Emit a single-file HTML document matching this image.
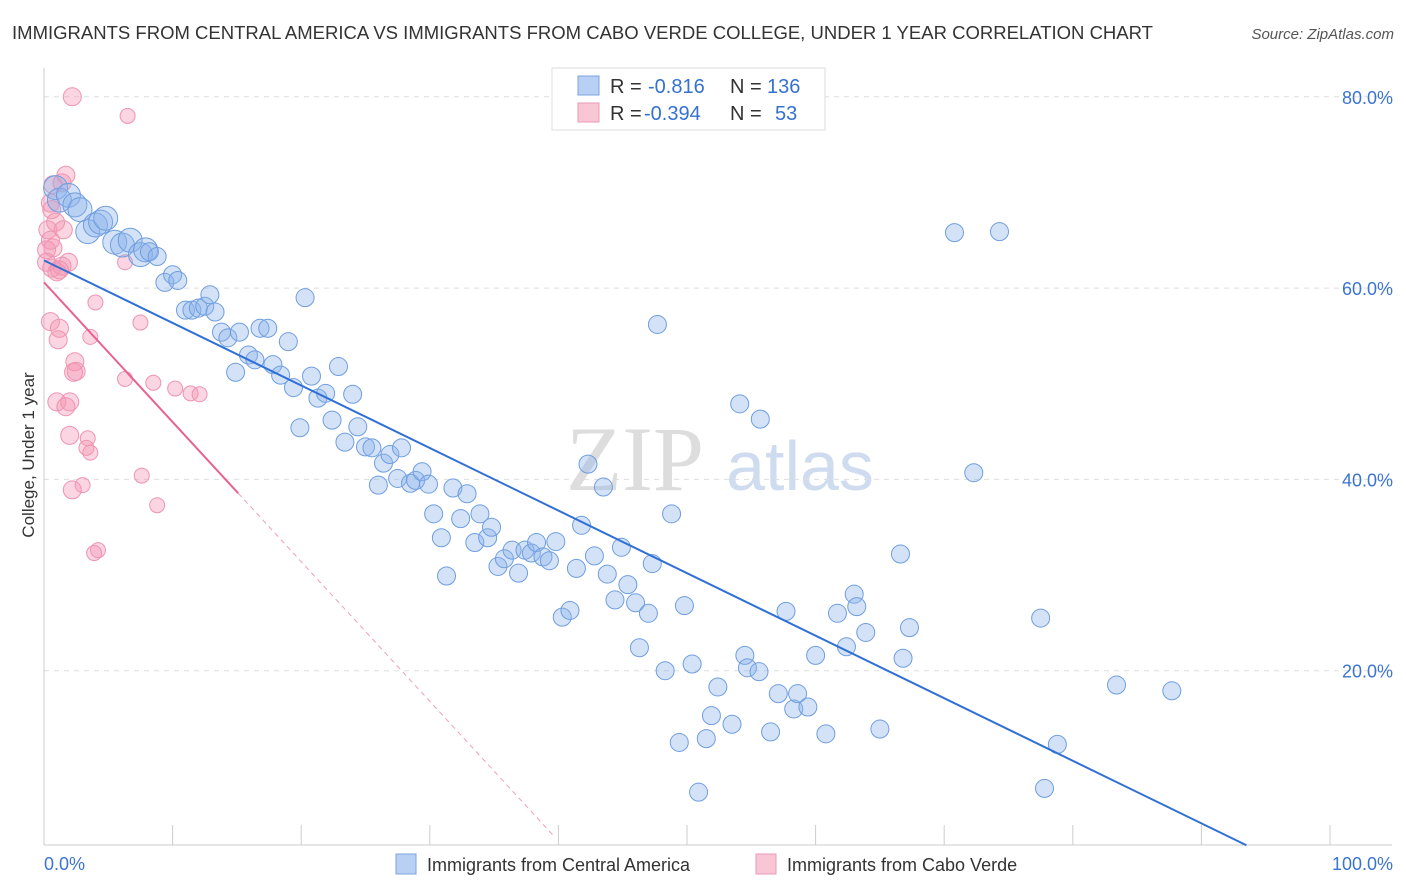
<!DOCTYPE html>
<html><head><meta charset="utf-8">
<style>
body{margin:0;background:#fff;font-family:"Liberation Sans",sans-serif;}
#wrap{position:relative;width:1406px;height:892px;overflow:hidden;}
</style></head>
<body>
<div id="wrap">
<svg id="svg" width="1406" height="892" xmlns="http://www.w3.org/2000/svg">
<text x="12" y="39" font-size="18" fill="#333" textLength="1141" lengthAdjust="spacingAndGlyphs">IMMIGRANTS FROM CENTRAL AMERICA VS IMMIGRANTS FROM CABO VERDE COLLEGE, UNDER 1 YEAR CORRELATION CHART</text>
<text x="1394" y="39" font-size="15" fill="#555" font-style="italic" text-anchor="end">Source: ZipAtlas.com</text>
<text x="635" y="490" font-size="92" fill="#ddd" text-anchor="middle" font-family="Liberation Serif,serif">ZIP</text>
<text x="800" y="490" font-size="70" fill="#cfdcf0" text-anchor="middle">atlas</text>
<text transform="translate(34,455) rotate(-90)" font-size="17" fill="#333" text-anchor="middle">College, Under 1 year</text>
<g id="grid"></g><g id="pts"></g><g id="lines"></g>
<g>
<rect x="552" y="68" width="273" height="62" fill="#fff" stroke="#ddd"/>
<rect x="578" y="76" width="21" height="19" fill="#b7d0f3" stroke="#7ea6e0"/>
<rect x="578" y="103" width="21" height="19" fill="#f8c6d4" stroke="#eb9ab4"/>
<g font-size="20">
<text x="610" y="93" fill="#333">R =</text><text x="648" y="93" fill="#3571d0">-0.816</text>
<text x="730" y="93" fill="#333">N =</text><text x="767" y="93" fill="#3571d0">136</text>
</g>
<g font-size="20">
<text x="610" y="120" fill="#333">R =</text><text x="644" y="120" fill="#3571d0">-0.394</text>
<text x="730" y="120" fill="#333">N =</text><text x="775" y="120" fill="#3571d0">53</text>
</g>
</g>
<g>
<rect x="396" y="854" width="20" height="20" fill="#b7d0f3" stroke="#7ea6e0"/>
<text x="427" y="871" font-size="18" fill="#333">Immigrants from Central America</text>
<rect x="756" y="854" width="20" height="20" fill="#f8c6d4" stroke="#eb9ab4"/>
<text x="787" y="871" font-size="18" fill="#333">Immigrants from Cabo Verde</text>
</g>
</svg>
</div>
<script>
const yTicks=[20,40,60,80];
const xTickLabels=["0.0%","100.0%"];
const blueX=[0.9,1.2,1.9,2.4,2.8,3.4,4.0,4.4,4.8,5.5,6.1,6.7,7.5,7.9,8.2,8.8,9.4,10.0,10.4,11.0,11.5,12.0,12.5,12.9,13.3,13.8,14.3,15.2,15.9,14.9,16.4,16.8,17.4,17.8,18.4,19.0,19.4,19.9,20.3,20.8,21.3,21.9,22.4,22.9,23.4,24.0,24.4,25.0,25.5,26.0,26.4,26.9,27.5,27.8,28.5,28.9,29.4,29.9,30.3,30.9,31.3,31.8,32.4,32.9,33.5,33.9,34.5,34.8,35.3,35.8,36.4,36.9,37.4,37.9,38.3,38.8,39.3,39.8,40.3,40.9,41.4,41.8,42.3,42.8,43.5,43.8,44.4,44.9,45.4,46.0,46.3,47.0,47.3,47.7,48.3,48.8,49.4,49.8,50.4,50.9,51.5,51.9,52.4,53.5,54.1,54.5,54.7,55.6,55.7,56.5,57.1,57.7,58.3,58.6,59.4,60.0,60.8,61.7,62.4,63.0,63.2,63.9,65.0,66.6,66.8,67.3,70.8,72.3,74.3,77.5,77.8,78.8,83.4,87.7];
const blueY=[70.5,69.2,69.7,68.7,68.2,65.9,66.6,66.9,67.3,64.8,64.5,65.0,63.5,64.0,63.8,63.3,60.6,61.4,60.8,57.7,57.7,57.9,58.1,59.3,57.5,55.4,54.8,55.4,53.0,51.2,52.5,55.8,55.8,52.0,50.9,54.4,49.6,45.4,59.0,50.8,48.5,49.0,46.2,51.8,43.9,48.9,45.5,43.4,43.3,39.4,41.7,42.6,40.1,43.3,39.6,39.9,40.8,39.5,36.4,33.9,29.9,39.1,35.9,38.5,33.4,36.4,33.9,35.0,30.9,31.7,32.6,30.2,32.6,32.3,33.4,31.9,31.5,33.5,25.6,26.3,30.7,35.2,41.6,32.0,39.2,30.1,27.4,32.9,29.0,27.1,22.4,26.0,31.2,56.2,20.0,36.4,12.5,26.8,20.7,7.3,12.9,15.3,18.3,14.4,47.9,21.6,20.3,19.9,46.3,13.6,17.6,26.2,16.0,17.6,16.2,21.6,13.4,26.0,22.5,28.0,26.7,24.0,13.9,32.2,21.3,24.5,65.8,40.7,65.9,25.5,7.7,12.3,18.5,17.9];
const pinkX=[2.2,6.5,0.7,1.4,1.7,0.5,0.6,0.9,0.3,0.5,0.7,1.5,0.2,0.6,1.0,1.4,1.9,0.2,4.0,0.5,1.2,1.1,3.6,7.5,2.4,2.5,2.3,6.3,8.5,10.2,11.4,12.1,1.0,2.0,1.7,2.0,3.4,3.3,3.6,7.6,3.0,2.2,8.8,4.2,3.9,6.3,1.2];
const pinkY=[80.0,78.0,70.8,71.0,71.8,68.9,68.2,66.9,66.1,65.0,64.2,66.1,62.7,62.1,61.7,62.3,62.7,64.0,58.5,56.5,55.8,54.6,54.9,56.4,52.3,51.3,51.2,50.5,50.1,49.5,49.0,48.9,48.1,48.1,47.6,44.6,44.3,43.3,42.8,40.4,39.4,38.9,37.3,32.6,32.3,62.7,61.9];
const blueFit=[62.9,-0.654];
const pinkFit=[60.6,-1.46];
const NS="http://www.w3.org/2000/svg";
const X0=44,X1=1330,Y0=862,PPY=9.565;
const sx=v=>X0+v*(X1-X0)/100, sy=v=>Y0-v*PPY;
function mk(tag,attrs,parent){const e=document.createElementNS(NS,tag);for(const k in attrs)e.setAttribute(k,attrs[k]);parent.appendChild(e);return e;}
const grid=document.getElementById('grid'),pts=document.getElementById('pts'),lines=document.getElementById('lines');
yTicks.forEach(t=>{
 const l=mk('line',{x1:44,x2:1392,y1:sy(t),y2:sy(t),stroke:'#ddd','stroke-dasharray':'5,5'},grid);
 
 
 const tx=mk('text',{x:1393,y:sy(t)+7,'font-size':18,fill:'#3c74d1','text-anchor':'end'},grid);
 tx.textContent=t.toFixed(1)+'%';
 
 
});
const ax=mk('line',{x1:44,x2:1392,y1:845,y2:845,stroke:'#ccc'},grid);


const ay=mk('line',{x1:44,x2:44,y1:68,y2:845,stroke:'#ccc'},grid);


for(let i=0;i<=10;i++){
 const t=mk('line',{x1:sx(i*10),x2:sx(i*10),y1:825,y2:845,stroke:'#ccc'},grid);
 
 
}
xTickLabels.forEach((s,i)=>{
 const t=mk('text',{x:i?1393:44,y:870,'font-size':18,fill:'#3c74d1','text-anchor':i?'end':'start'},grid);
 t.textContent=s;
 
 
});
pinkX.forEach((x,i)=>{
 const r=x<3?9:7.5;
 const c=mk('circle',{cx:sx(x),cy:sy(pinkY[i]),r:r,fill:'rgba(244,150,180,0.4)',stroke:'#ee94b2','stroke-width':1},pts);
 
 
});
blueX.forEach((x,i)=>{
 const r=x<8?12:9;
 const c=mk('circle',{cx:sx(x),cy:sy(blueY[i]),r:r,fill:'rgba(140,180,235,0.38)',stroke:'#6f9ee0','stroke-width':1},pts);
 
 
});
const bl=mk('line',{x1:sx(0),y1:sy(blueFit[0]),x2:sx(93.5),y2:sy(blueFit[0]+blueFit[1]*93.5),stroke:'#2f6fd6','stroke-width':2},lines);


const pl=mk('line',{x1:sx(0),y1:sy(pinkFit[0]),x2:sx(15.1),y2:sy(pinkFit[0]+pinkFit[1]*15.1),stroke:'#e8628e','stroke-width':2},lines);


const pd=mk('line',{x1:sx(15.1),y1:sy(pinkFit[0]+pinkFit[1]*15.1),x2:sx(39.7),y2:sy(pinkFit[0]+pinkFit[1]*39.7),stroke:'#eea0b8','stroke-width':1,'stroke-dasharray':'5,4'},lines);


</script>
</body></html>
